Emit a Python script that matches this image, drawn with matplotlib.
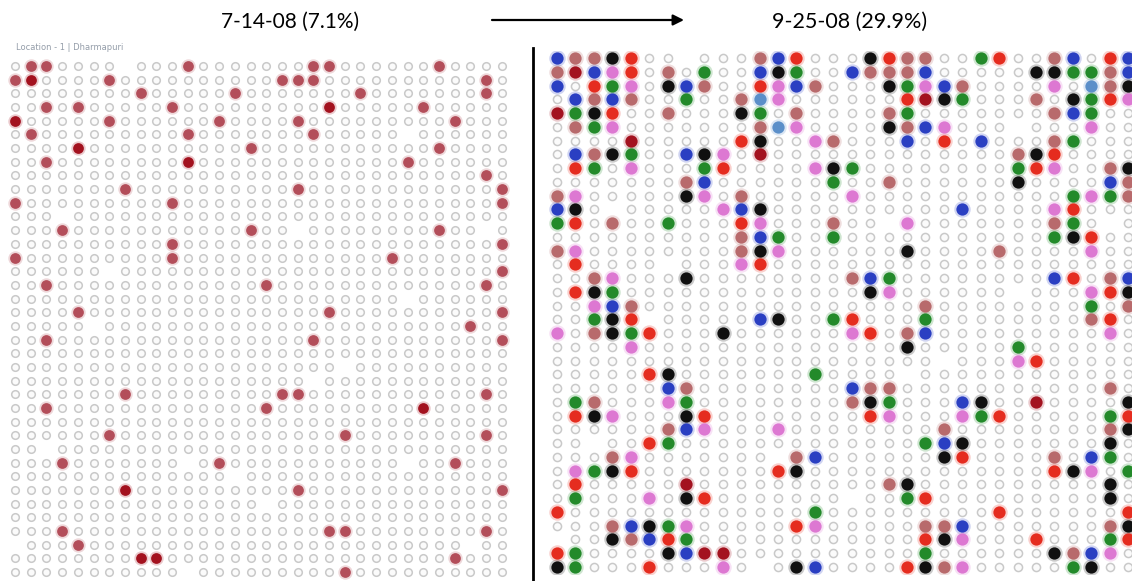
import matplotlib.pyplot as plt
from matplotlib.lines import Line2D

left_title = "7-14-08 (7.1%)"
right_title = "9-25-08 (29.9%)"
left_caption = "Location - 1 | Dharmapuri"

# one string per row of the tray; '.' = empty well, ' ' = missing, letters = coloured well
left_rows = [
    ".rr.... ...r.......rr......r....",
    "rd....r..........rrr..........r.",
    "........r.....r.......r.......r.",
    "..r.r.....r.........d.....r.....",
    "d.....r......r....r.........r...",
    ".r.........r.......r..... ......",
    "....d..........r...........r....",
    "..r........d.............r......",
    "..............................r.",
    ".......r..........r............r",
    "r.........r....................r",
    "... ............................",
    "...r...........r.. ........r.. .",
    "..........r....................r",
    "r.........r.............r.......",
    "...... ........................r",
    "..r.............r.............r.",
    "......................... ......",
    "....r...............r..........r",
    "..... .......................r..",
    "..r................r...........r",
    "................................",
    "..................... ..........",
    "................... ............",
    ".......r.........rr...........r.",
    "..r.............r.........d.....",
    "................................",
    "......r..............r........r.",
    ".. .............................",
    "...r....... .r........... ..r...",
    ".............. .................",
    ".......d..........r............r",
    "................ ...............",
    "................................",
    "...r................rr........r.",
    " ...r........................ ..",
    "........dd..................r...",
    "........... .........r..........",
]

right_rows = [
    "bmmkr.. ...mbr...krmm..gr..mb.rb",
    "mdbpr.m.g..bkg..bmmmb.....kkggmb",
    "b.rgp.kbm..rpbm...kgpbm....p.lmk",
    ".bmbm..g..mlp......rdkg...m.kgrp",
    "dgkr..m...kg.m....mg.......mbg..",
    ".mgp.......mlp....kmbp... ...p..",
    "....d.....rk..pm...b.r.b...mg...",
    ".bmkg..bkp.d.............mkr....",
    ".rg.p...gr....pkg........grp..mk",
    ".......mb......g..m......k....bm",
    "mp.....kp.m.....p...........gpgm",
    "bk. .....pbk..........b....pr...",
    "gr.m..g...rp...m.. p.......mg. .",
    "..........mbg..g...........gkr..",
    "mp........mkp......k....m....p..",
    ".r.... ...pr....................",
    "..mp...k........mbg........br.mb",
    ".rkg.............kp...... ...prk",
    "..pbm...............m........g.m",
    "..gkr .....bk..gr...g........mr.",
    "p.mkgr...k......pr.mb.........p.",
    "....p..............k.....g......",
    "..................... ...pr.....",
    ".....rk.......g.... ............",
    "......bm........bmm...........m.",
    ".gm...pg........mkg...bk..d....k",
    ".rkp...kr........rp...pgr.....gr",
    "......mbp...p........m........mk",
    ".. ..rg.............gbk.......k.",
    "...mp....... mb......kr....m.bg.",
    ".pgkr.......rk.............rkp.g",
    ".r.....d..........mk..........k.",
    ".g...p.kr....... ..gr.........k.",
    "r.............g.........r......r",
    "...mbkgp.....rp.....mmb.......mk",
    " ..kmbrg............rkp...r...gr",
    "rg....kbdd..........g......kmbp.",
    "kg...r...p. .kb....rkmp.....gk..",
]

colors = {
    'r': '#e52c1f',
    'd': '#a3121f',
    'm': '#b86a6c',
    'b': '#2a3fc2',
    'k': '#101010',
    'g': '#238a2a',
    'p': '#dd78d2',
    'l': '#5b8fc9',
}
left_red = '#b34e5a'


def plotTray(ax, rows, palette, ring_size, dot_size):
    empty_x, empty_y = [], []
    for i, row in enumerate(rows):
        for j, ch in enumerate(row):
            if ch == '.':
                empty_x.append(j)
                empty_y.append(i)
    ax.scatter(empty_x, empty_y, s=ring_size, facecolors='#fbfbfb',
               edgecolors='#c9c9c9', linewidths=1.1, zorder=2)

    for code, col in palette.items():
        xs, ys = [], []
        for i, row in enumerate(rows):
            for j, ch in enumerate(row):
                if ch == code:
                    xs.append(j)
                    ys.append(i)
        if not xs:
            continue
        # soft halo, the source photo is blurry
        ax.scatter(xs, ys, s=dot_size * 1.8, color=col, alpha=0.22,
                   linewidths=0, zorder=3)
        ax.scatter(xs, ys, s=dot_size, color=col, linewidths=0, zorder=4)

    ax.set_xlim(-0.5, len(rows[0]) - 0.5)
    ax.set_ylim(len(rows) - 0.5, -0.5)
    ax.axis('off')


W, H = 1132, 581
fig = plt.figure(figsize=(W / 100, H / 100), dpi=100)

# left tray: 32 cols x 38 rows
lx0, lsx, ly0, lsy = 15.0, 15.7, 66.0, 13.68
ax1 = fig.add_axes([(lx0 - lsx / 2) / W, (H - (ly0 - lsy / 2) - 38 * lsy) / H,
                    32 * lsx / W, 38 * lsy / H])
plotTray(ax1, left_rows, {'r': left_red, 'd': colors['d']}, 30, 60)

# right tray: 32 cols (last one cut by the edge) x 38 rows
rx0, rsx, ry0, rsy = 557.0, 18.42, 58.0, 13.75
ax2 = fig.add_axes([(rx0 - rsx / 2) / W, (H - (ry0 - rsy / 2) - 38 * rsy) / H,
                    32 * rsx / W, 38 * rsy / H])
plotTray(ax2, right_rows, colors, 34, 78)

fig.text(290 / W, 1 - 22 / H, left_title, ha='center', va='center',
         fontsize=15, family='Lato')
fig.text(850 / W, 1 - 22 / H, right_title, ha='center', va='center',
         fontsize=15.5, family='Lato')
fig.text(16 / W, 1 - 47 / H, left_caption, ha='left', va='center',
         fontsize=6, color='#7a8594', alpha=0.8)

ax1.annotate('', xy=(684, H - 20), xytext=(492, H - 20),
             xycoords='figure pixels', textcoords='figure pixels',
             arrowprops=dict(arrowstyle='-|>', color='black', lw=1.6,
                             mutation_scale=16, shrinkA=0, shrinkB=0))

fig.add_artist(Line2D([533 / W, 533 / W], [0, 1 - 48 / H],
                      transform=fig.transFigure, color='black', lw=2))

fig.savefig('out.png', dpi=100)
